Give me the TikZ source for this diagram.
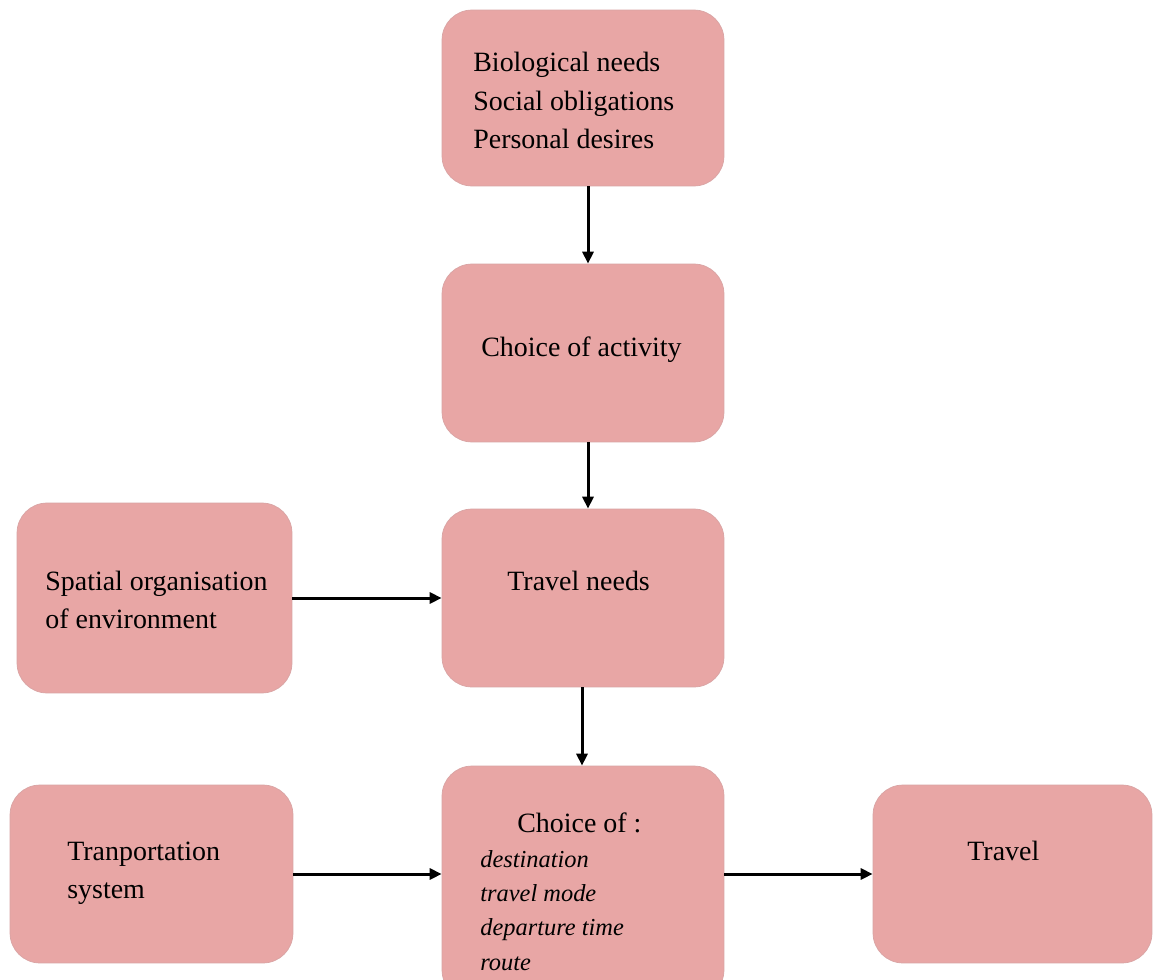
\documentclass[tikz,border=0pt]{standalone}
\usepackage{fontspec}
\setmainfont{Liberation Serif}
\usetikzlibrary{arrows.meta,calc}
\definecolor{boxfill}{HTML}{E8A6A5}
\definecolor{boxline}{HTML}{D9A4A4}
\begin{document}
\begin{tikzpicture}[x=0.02cm,y=-0.02cm,
  box/.style={rectangle, rounded corners=0.6cm, fill=boxfill, draw=boxline, line width=0.4pt, inner sep=0pt},
  txt/.style={anchor=base west, inner sep=0pt, font=\fontsize{15.9}{21.9}\selectfont},
  itxt/.style={anchor=base west, inner sep=0pt, font=\fontsize{13.9}{19.6}\selectfont\itshape},
  arr/.style={line width=0.06cm, -{Triangle[length=0.24cm,width=0.22cm]}}]
\clip (0,0) rectangle (1153,980);
\fill[white] (0,0) rectangle (1153,980);
% boxes
\node[box, minimum width=5.64cm, minimum height=3.52cm] (A) at (583,98) {};
\node[box, minimum width=5.64cm, minimum height=3.56cm] (B) at (583,353) {};
\node[box, minimum width=5.64cm, minimum height=3.56cm] (C) at (583,598) {};
\node[box, minimum width=5.5cm, minimum height=3.8cm] (D) at (154.5,598) {};
\node[box, minimum width=5.64cm, minimum height=4.68cm] (E) at (583,883) {};
\node[box, minimum width=5.66cm, minimum height=3.56cm] (F) at (151.5,874) {};
\node[box, minimum width=5.58cm, minimum height=3.56cm] (G) at (1012.5,874) {};
% texts
\node[txt] (tA) at (473,72) {\begin{tabular}[t]{@{}l@{}}Biological needs\\Social obligations\\Personal desires\end{tabular}};
\node[txt] (tB) at (481,356) {Choice of activity};
\node[txt] (tC) at (507,590) {Travel needs};
\node[txt] (tD) at (45,590) {\begin{tabular}[t]{@{}l@{}}Spatial organisation\\of environment\end{tabular}};
\node[txt] (tE) at (517,832) {Choice of :};
\node[itxt] (tE2) at (480,867) {\begin{tabular}[t]{@{}l@{}}destination\\travel mode\\departure time\\route\end{tabular}};
\node[txt] (tF) at (67,860) {\begin{tabular}[t]{@{}l@{}}Tranportation\\system\end{tabular}};
\node[txt] (tG) at (967,860) {Travel};
% arrows
\draw[arr] ($(A.south)+(5,0)$) -- ($(B.north)+(5,0)$);
\draw[arr] ($(B.south)+(5,0)$) -- ($(C.north)+(5,0)$);
\draw[arr] ($(C.south)+(-1,0)$) -- ($(E.north)+(-1,0)$);
\draw[arr] (D.east |- C.west) -- (C.west);
\draw[arr] (F.east) -- (F.east -| E.west);
\draw[arr] (G.west -| E.east) -- (G.west);
\end{tikzpicture}
\end{document}
